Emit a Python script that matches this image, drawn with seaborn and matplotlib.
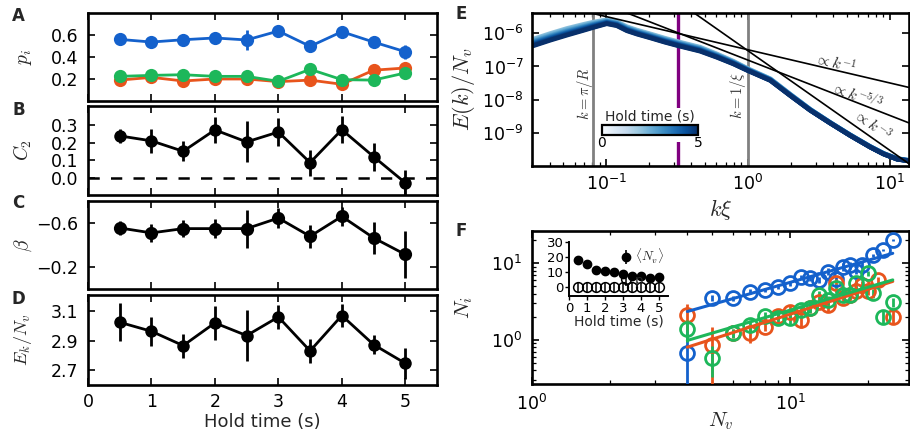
import numpy as np
import matplotlib
matplotlib.use("Agg")
import matplotlib.pyplot as plt
import seaborn as sns
from matplotlib.colors import Normalize
from matplotlib.cm import ScalarMappable
from matplotlib.patches import Rectangle
from matplotlib.ticker import LogLocator, NullFormatter, FixedLocator

# ---------------- data ----------------
hold_time = [0.5, 1.0, 1.5, 2.0, 2.5, 3.0, 3.5, 4.0, 4.5, 5.0]

# A: cluster / dipole / free vortex fractions
p_blue = [0.56, 0.536, 0.557, 0.573, 0.555, 0.636, 0.497, 0.63, 0.536, 0.448]
p_blue_err = [0.015, 0.015, 0.015, 0.02, 0.09, 0.02, 0.015, 0.02, 0.056, 0.064]
p_orange = [0.19, 0.215, 0.182, 0.2, 0.2, 0.176, 0.19, 0.152, 0.28, 0.3]
p_orange_err = [0.015, 0.015, 0.015, 0.015, 0.056, 0.015, 0.015, 0.02, 0.02, 0.02]
p_green = [0.224, 0.233, 0.239, 0.224, 0.224, 0.179, 0.288, 0.194, 0.19, 0.255]
p_green_err = [0.015, 0.015, 0.015, 0.015, 0.02, 0.015, 0.015, 0.02, 0.02, 0.02]

# B: correlation function C2
c2 = [0.238, 0.21, 0.151, 0.272, 0.204, 0.26, 0.087, 0.273, 0.121, -0.027]
c2_err = [0.038, 0.068, 0.056, 0.075, 0.116, 0.08, 0.073, 0.077, 0.079, 0.07]

# C: beta
beta = [-0.555, -0.51, -0.549, -0.549, -0.549, -0.645, -0.479, -0.66, -0.465, -0.314]
beta_err = [0.06, 0.083, 0.075, 0.083, 0.173, 0.09, 0.102, 0.09, 0.143, 0.215]

# D: kinetic energy per vortex
ek_nv = [3.025, 2.964, 2.867, 3.021, 2.935, 3.061, 2.831, 3.071, 2.874, 2.747]
ek_nv_err = [0.13, 0.097, 0.081, 0.113, 0.172, 0.082, 0.082, 0.079, 0.064, 0.105]

# E: incompressible kinetic energy spectrum (latest hold time) and the
# spread, in decades, by which the earliest spectrum lies above it
spec_k = [0.03, 0.0403, 0.0528, 0.0688, 0.081, 0.101, 0.119, 0.14, 0.165, 0.205,
          0.26, 0.324, 0.46, 0.604, 0.79, 1.0, 1.44, 1.99, 2.75, 3.81,
          5.27, 7.3, 9.06, 11.3, 14.0]
spec_E = [4.1e-7, 6.2e-7, 8.8e-7, 1.22e-6, 1.5e-6, 1.95e-6, 1.7e-6, 1.2e-6, 9.5e-7, 7.3e-7,
          5.4e-7, 4.2e-7, 2.9e-7, 1.9e-7, 1.2e-7, 7.5e-8, 3.8e-8, 1.33e-8, 4.8e-9, 1.96e-9,
          8.3e-10, 3.7e-10, 2.3e-10, 1.6e-10, 1.4e-10]
spec_spread = [0.2, 0.2, 0.2, 0.18, 0.16, 0.12, 0.12, 0.12, 0.12, 0.12,
               0.12, 0.12, 0.12, 0.1, 0.08, 0.06, 0.05, 0.04, 0.03, 0.02,
               0.02, 0.02, 0.02, 0.02, 0.02]
hold_weight = [1.0, 0.85, 0.7, 0.6, 0.5, 0.4, 0.3, 0.2, 0.1, 0.0]
law_exp = [-1.0, -5.0 / 3.0, -3.0]
law_amp = [3.2e-7, 1.56e-7, 3.0e-7]
law_labels = [r"$\propto k^{-1}$", r"$\propto k^{-5/3}$", r"$\propto k^{-3}$"]
law_label_pos = [(4.13, 1.23e-7), (5.88, 1.35e-8), (7.5, 1.66e-9)]
law_label_rot = [-13, -21, -35]
k_piR = 0.0805
k_xi = 1.0
k_purple = 0.324

# F: cluster sizes versus vortex number
nv_blue = [4, 5, 6, 7, 8, 9, 10, 11, 12, 13, 14, 15, 16, 17, 18, 19, 21, 23, 25]
ni_blue = [0.67, 3.5, 3.5, 4.26, 4.49, 4.96, 5.48, 6.69, 6.37, 6.06, 7.78, 6.3, 9.03, 9.5,
           8.0, 9.5, 12.8, 14.9, 20.1]
ni_blue_err = [0.9, 0.3, 0.25, 0.35, 0.3, 0.35, 0.4, 0.4, 0.5, 0.5, 0.8, 0.6, 1.0, 0.9,
               0.8, 0.9, 0.6, 0.6, 0.5]
nv_orange = [4, 5, 6, 7, 8, 9, 10, 11, 12, 13, 14, 15, 16, 17, 18, 19, 20, 22, 25]
ni_orange = [2.1, 0.86, 1.22, 1.22, 1.49, 2.06, 2.3, 1.82, 2.59, 3.16, 2.86, 5.6, 3.5, 3.9,
             4.3, 5.2, 4.4, 6.06, 2.0]
ni_orange_err = [0.8, 0.6, 0.15, 0.3, 0.2, 0.25, 0.45, 0.4, 0.35, 0.4, 0.55, 0.6, 0.5, 0.5,
                 0.6, 0.6, 0.5, 0.5, 0.4]
nv_green = [4, 5, 6, 7, 8, 9, 10, 11, 12, 13, 14, 15, 16, 17, 18, 20, 21, 23, 25]
ni_green = [1.38, 0.58, 1.22, 1.57, 2.06, 1.92, 1.92, 2.46, 2.59, 3.86, 3.32, 4.72, 3.86, 3.9,
            5.48, 7.4, 4.06, 2.0, 3.07]
ni_green_err = [0.45, 0.25, 0.15, 0.25, 0.25, 0.3, 0.3, 0.35, 0.35, 0.5, 0.45, 0.6, 0.5, 0.6,
                0.7, 0.6, 0.5, 0.4, 0.4]
fit_amp = [0.622, 0.179, 0.247]
fit_slope = [0.956, 1.08, 0.994]

# F inset: mean vortex number and polarisation
inset_nv = [18.2, 15.3, 11.7, 10.9, 10.0, 8.7, 7.7, 7.3, 6.4, 6.9]
inset_nv_err = [0.6, 0.5, 0.5, 0.4, 0.4, 0.4, 0.4, 0.3, 0.3, 0.3]
inset_p = [0, 0, 0, 0, 0, 0, 0, 0, 0, 0]
inset_p_err = [3.0, 3.5, 3.0, 3.5, 3.0, 3.5, 3.5, 3.0, 3.5, 3.5]

BLUE = "#1461cc"
ORANGE = "#e8541c"
GREEN = "#1db75a"

# ---------------- style ----------------
sns.set_theme(style="ticks")
plt.rcParams.update({
    "mathtext.fontset": "cm",
    "axes.linewidth": 1.9,
    "axes.edgecolor": "black",
    "axes.facecolor": "white",
    "xtick.color": "black",
    "ytick.color": "black",
    "xtick.labelsize": 12.5,
    "ytick.labelsize": 12.5,
})
plt.rcParams["font.family"] = ["DejaVu Sans"]

W, H = 910, 433
fig = plt.figure(figsize=(W / 100, H / 100), dpi=100)


def add_axes_px(left, top, right, bottom):
    return fig.add_axes([left / W, 1 - bottom / H, (right - left) / W, (bottom - top) / H])


def frame_ticks(ax, minor=False, pad=7):
    ax.tick_params(which="major", direction="in", top=True, right=True,
                   length=5, width=1.2, pad=pad)
    if minor:
        ax.tick_params(which="minor", direction="in", top=True, right=True,
                       length=2.6, width=0.9)


# ---------------- left column ----------------
axA = add_axes_px(88, 13, 437, 101)
axB = add_axes_px(88, 106, 437, 195)
axC = add_axes_px(88, 201, 437, 289)
axD = add_axes_px(88, 295, 437, 385)


def series(ax, y, err, color, ms=9.5):
    sns.lineplot(x=hold_time, y=y, ax=ax, color=color, linewidth=2.0, marker="o",
                 markersize=ms, markeredgewidth=0, zorder=3)
    ax.errorbar(hold_time, y, yerr=err, fmt="none", ecolor=color, elinewidth=2.0,
                capsize=0, zorder=3)


series(axA, p_blue, p_blue_err, BLUE)
series(axA, p_orange, p_orange_err, ORANGE)
series(axA, p_green, p_green_err, GREEN)
axA.set_ylim(0.0, 0.8)
axA.set_yticks([0.2, 0.4, 0.6])
axA.set_ylabel(r"$p_i$", fontsize=14)

series(axB, c2, c2_err, "black", ms=9)
axB.axhline(0, color="black", lw=1.8, ls=(0, (4.5, 4.5)), zorder=1)
axB.set_ylim(-0.096, 0.407)
axB.set_yticks([0.0, 0.1, 0.2, 0.3])
axB.set_ylabel(r"$C_2$", fontsize=14)

series(axC, beta, beta_err, "black", ms=9.5)
axC.set_ylim(0.0, -0.8)
axC.set_yticks([-0.6, -0.2])
axC.set_ylabel(r"$\beta$", fontsize=14)

series(axD, ek_nv, ek_nv_err, "black", ms=9)
axD.set_ylim(2.6, 3.21)
axD.set_yticks([2.7, 2.9, 3.1])
axD.set_ylabel(r"$E_k/N_v$", fontsize=13)
axD.set_xlabel("Hold time (s)", fontsize=13)

for ax in (axA, axB, axC, axD):
    ax.set_xlim(0, 5.5)
    ax.set_xticks([0, 1, 2, 3, 4, 5])
    frame_ticks(ax)
    ax.yaxis.set_label_coords(-0.155, 0.5)
    if ax is not axD:
        ax.tick_params(labelbottom=False)
        ax.set_xlabel("")
axD.tick_params(axis="x", pad=6)
axD.xaxis.set_label_coords(0.5, -0.31)

# ---------------- E: energy spectrum ----------------
axE = add_axes_px(532, 13, 909, 166)
axE.set_xscale("log")
axE.set_yscale("log")
norm = Normalize(0, 5)
cmap = plt.get_cmap("Blues")
for t, w in zip(hold_time, hold_weight):
    curve = np.asarray(spec_E) * 10 ** (np.asarray(spec_spread) * w)
    sns.lineplot(x=spec_k, y=curve, ax=axE, color=cmap(0.35 + 0.65 * norm(t)),
                 linewidth=3.4, zorder=2)

k_line = np.array([0.03, 14.0])
for amp, ex, lab, pos, rot in zip(law_amp, law_exp, law_labels, law_label_pos, law_label_rot):
    axE.plot(k_line, amp * k_line ** ex, color="black", lw=1.2, zorder=3)
    axE.text(pos[0], pos[1], lab, rotation=rot, rotation_mode="anchor",
             ha="center", va="center", fontsize=11, zorder=4)

axE.axvline(k_piR, color="#808080", lw=2.0, zorder=1)
axE.axvline(k_xi, color="#808080", lw=2.0, zorder=1)
axE.axvline(k_purple, color="#800080", lw=2.4, zorder=1)
axE.text(0.0711, 1.5e-8, r"$k=\pi/R$", rotation=90, ha="center", va="center",
         fontsize=10.5, color="#333333")
axE.text(0.855, 1.35e-8, r"$k=1/\xi$", rotation=90, ha="center", va="center",
         fontsize=10.5, color="#333333")

axE.set_xlim(0.03, 13.7)
axE.set_ylim(1e-10, 4.1e-6)
axE.xaxis.set_major_locator(FixedLocator([0.1, 1.0, 10.0]))
axE.xaxis.set_minor_locator(LogLocator(base=10, subs=np.arange(2, 10)))
axE.xaxis.set_minor_formatter(NullFormatter())
axE.yaxis.set_major_locator(FixedLocator([1e-9, 1e-8, 1e-7, 1e-6]))
axE.yaxis.set_minor_locator(LogLocator(base=10, subs=np.arange(2, 10)))
axE.yaxis.set_minor_formatter(NullFormatter())
frame_ticks(axE, minor=True, pad=6)
axE.set_xlabel(r"$k\xi$", fontsize=16)
axE.set_ylabel(r"$E(k)/N_v$", fontsize=16)
axE.xaxis.set_label_coords(0.5, -0.2)
axE.yaxis.set_label_coords(-0.146, 0.5)

# white box behind the colour bar
axE.add_patch(Rectangle((0.178, 0.157), 0.273, 0.222, transform=axE.transAxes,
                        facecolor="white", edgecolor="none", zorder=5))
cax = add_axes_px(602, 125, 698, 135)
cb = fig.colorbar(ScalarMappable(norm=norm, cmap=cmap), cax=cax,
                  orientation="horizontal", ticks=[0, 5])
cb.outline.set_linewidth(1.6)
cax.tick_params(labelsize=10, length=0, pad=1)
cax.set_title("Hold time (s)", fontsize=10, pad=3)

# ---------------- F: cluster sizes ----------------
axF = add_axes_px(532, 231, 909, 384)
axF.set_xscale("log")
axF.set_yscale("log")
groups = [(nv_blue, ni_blue, ni_blue_err, BLUE),
          (nv_orange, ni_orange, ni_orange_err, ORANGE),
          (nv_green, ni_green, ni_green_err, GREEN)]
for (nv, ni, err, col), a, b in zip(groups, fit_amp, fit_slope):
    axF.errorbar(nv, ni, yerr=err, fmt="o", mfc="none", mec=col, mew=2.0, ms=10,
                 ecolor=col, elinewidth=2.0, capsize=0, zorder=3)
    n_end = np.array([min(nv), max(nv)], dtype=float)
    sns.lineplot(x=n_end, y=a * n_end ** b, ax=axF, color=col, linewidth=2.2, zorder=4)
axF.set_xlim(1, 28.9)
axF.set_ylim(0.264, 26.4)
axF.xaxis.set_major_locator(FixedLocator([1.0, 10.0]))
axF.xaxis.set_minor_locator(LogLocator(base=10, subs=np.arange(2, 10)))
axF.xaxis.set_minor_formatter(NullFormatter())
axF.yaxis.set_major_locator(FixedLocator([1.0, 10.0]))
axF.yaxis.set_minor_locator(LogLocator(base=10, subs=np.arange(2, 10)))
axF.yaxis.set_minor_formatter(NullFormatter())
frame_ticks(axF, minor=True, pad=7)
axF.set_xlabel(r"$N_v$", fontsize=15)
axF.set_ylabel(r"$N_i$", fontsize=15)
axF.xaxis.set_label_coords(0.5, -0.175)
axF.yaxis.set_label_coords(-0.151, 0.5)

# inset: <N_v> and p versus hold time
axI = add_axes_px(569, 242, 668, 296)
h1 = axI.errorbar(hold_time, inset_nv, yerr=inset_nv_err, fmt="o", color="black",
                  ms=6, elinewidth=1.2, capsize=0, label=r"$\langle N_v\rangle$")
h2 = axI.errorbar(hold_time, inset_p, yerr=inset_p_err, fmt="o", mfc="none", mec="black",
                  mew=1.1, ms=7, ecolor="black", elinewidth=1.1, capsize=0, label="p")
axI.set_xlim(0, 5.5)
axI.set_ylim(-5.8, 30)
axI.set_xticks([0, 1, 2, 3, 4, 5])
axI.set_yticks([0, 10, 20, 30])
axI.patch.set_alpha(0)
for side in ("top", "right"):
    axI.spines[side].set_visible(False)
for side in ("left", "bottom"):
    axI.spines[side].set_linewidth(1.4)
axI.tick_params(direction="out", length=3, width=1.0, labelsize=9.5, pad=1)
axI.set_xlabel("Hold time (s)", fontsize=10, labelpad=0)
axI.legend(handles=[h1, h2], loc="upper right", bbox_to_anchor=(1.04, 1.06),
           frameon=False, fontsize=9.5, handlelength=0.9, handletextpad=0.2,
           labelspacing=0.6, borderpad=0.1)

# ---------------- panel letters ----------------
for letter, x, y in [("A", 18.5, 16), ("B", 18.5, 110), ("C", 18.5, 203), ("D", 18.5, 299),
                     ("E", 461.5, 14), ("F", 461, 231.5)]:
    fig.text(x / W, 1 - y / H, letter, fontsize=12, fontweight="bold",
             ha="center", va="center")

fig.savefig("out.png", dpi=100)
